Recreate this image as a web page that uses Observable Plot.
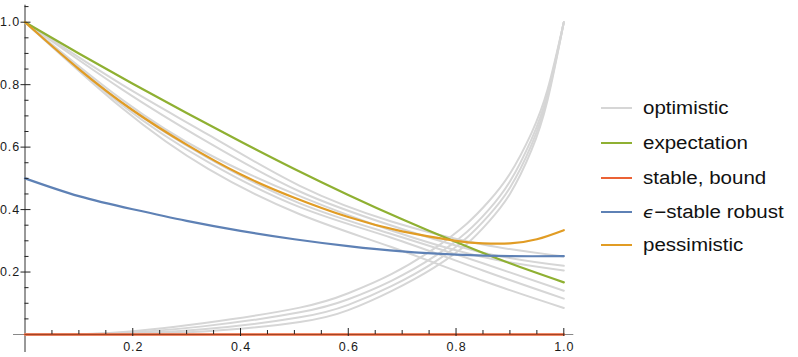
<!DOCTYPE html>
<html><head><meta charset="utf-8">
<script src="https://cdn.jsdelivr.net/npm/d3@7"></script>
<script src="https://cdn.jsdelivr.net/npm/@observablehq/plot@0.6"></script>
<style>
html,body{margin:0;padding:0;background:#fff;}
#wrap{position:relative;width:798px;height:357px;overflow:hidden;}
.item{position:absolute;left:601px;height:0;}
.sw{position:absolute;left:0;width:31px;height:2px;top:-1px;}
.lab{position:absolute;left:42px;top:-11px;font-size:18px;font-family:"Liberation Sans",Arial,sans-serif;white-space:nowrap;transform:scaleX(1.14);transform-origin:left center;line-height:22px;color:#111;}
.lab i{font-family:"DejaVu Sans",sans-serif;font-size:16px;}
#wrap svg text{letter-spacing:0.9px;}
</style></head><body><div id="wrap"></div>
<script>
// ---- data ----
const xTickValues = [0.2, 0.4, 0.6, 0.8, 1.0];
const yTickValues = [0.2, 0.4, 0.6, 0.8, 1.0];
const xMinorTicks = [0.05,0.1,0.15,0.25,0.3,0.35,0.45,0.5,0.55,0.65,0.7,0.75,0.85,0.9,0.95];
const yMinorTicks = [0.05,0.1,0.15,0.25,0.3,0.35,0.45,0.5,0.55,0.65,0.7,0.75,0.85,0.9,0.95,1.05];

const seriesNames = ["optimistic", "expectation", "stable, bound", "\u03F5\u2212stable robust", "pessimistic"];
const seriesColors = ["#d6d6d6", "#8fb032", "#eb6235", "#5e81b5", "#e19c24"];

// optimistic (gray) – rising family
const optRiseX = [0, 0.15, 0.33, 0.51, 0.6, 0.68, 0.76, 0.82, 0.86, 0.9, 0.94, 0.97, 1];
const optRiseA = [0, 0.004, 0.036, 0.086, 0.132, 0.193, 0.276, 0.355, 0.425, 0.515, 0.645, 0.785, 1.0];
const optRiseB = [0, 0.003, 0.026, 0.071, 0.113, 0.172, 0.25, 0.328, 0.398, 0.49, 0.625, 0.772, 1.0];
const optRiseC = [0, 0.002, 0.017, 0.055, 0.095, 0.155, 0.232, 0.31, 0.38, 0.47, 0.607, 0.762, 1.0];
const optRiseD = [0, 0.001, 0.010, 0.040, 0.078, 0.139, 0.215, 0.29, 0.36, 0.45, 0.59, 0.752, 1.0];
// optimistic (gray) – falling family
const optFallX = [0, 0.18, 0.34, 0.51, 0.68, 0.85, 1];
const optFall1 = [1, 0.80, 0.64, 0.476, 0.362, 0.288, 0.25];
const optFall2 = [1, 0.785, 0.615, 0.458, 0.349, 0.262, 0.22];
const optFall3 = [1, 0.752, 0.578, 0.443, 0.333, 0.248, 0.205];
const optFall4 = [1, 0.742, 0.565, 0.42, 0.322, 0.228, 0.14];
const optFall5 = [1, 0.735, 0.552, 0.408, 0.31, 0.205, 0.115];
const optFall6 = [1, 0.725, 0.53, 0.385, 0.28, 0.172, 0.085];

const expectationX = [0, 0.1, 0.2, 0.3, 0.4, 0.5, 0.6, 0.7, 0.8, 0.9, 1.0];
const expectationY = [1.0, 0.900, 0.803, 0.709, 0.618, 0.530, 0.447, 0.369, 0.296, 0.228, 0.167];

const stableX = [0, 1];
const stableY = [0, 0];

const robustX = [0, 0.1, 0.2, 0.3, 0.4, 0.5, 0.6, 0.7, 0.8, 0.9, 1.0];
const robustY = [0.5, 0.443, 0.401, 0.364, 0.332, 0.305, 0.283, 0.266, 0.256, 0.251, 0.251];

const pessimisticX = [0, 0.1, 0.2, 0.3, 0.4, 0.5, 0.6, 0.7, 0.8, 0.85, 0.9, 0.95, 1.0];
const pessimisticY = [1.0, 0.85, 0.718, 0.608, 0.513, 0.438, 0.376, 0.330, 0.300, 0.292, 0.292, 0.305, 0.334];

// ---- build tables ----
const toRows = (xs, ys, id) => xs.map((x, i) => ({x, y: ys[i], id}));
const optimistic = [
  ...toRows(optRiseX, optRiseA, "rA"), ...toRows(optRiseX, optRiseB, "rB"),
  ...toRows(optRiseX, optRiseC, "rC"), ...toRows(optRiseX, optRiseD, "rD"),
  ...toRows(optFallX, optFall1, "f1"), ...toRows(optFallX, optFall2, "f2"),
  ...toRows(optFallX, optFall3, "f3"), ...toRows(optFallX, optFall4, "f4"),
  ...toRows(optFallX, optFall5, "f5"), ...toRows(optFallX, optFall6, "f6")
];
const expectation = toRows(expectationX, expectationY, "e");
const stable = toRows(stableX, stableY, "s");
const robust = toRows(robustX, robustY, "r");
const pessimistic = toRows(pessimisticX, pessimisticY, "p");

const fmt = d3.format(".1f");
const W = 798, H = 357;
const chart = Plot.plot({
  width: W, height: H,
  marginLeft: 24.5, marginRight: 234.7, marginTop: 21.7, marginBottom: 23,
  x: {domain: [0, 1], axis: null},
  y: {domain: [0, 1], axis: null},
  style: {fontFamily: "'Liberation Sans', Arial, sans-serif", color: "#1a1a1a", background: "#fff"},
  marks: [
    // axes lines
    Plot.ruleY([0], {stroke: "#888", strokeWidth: 1, insetLeft: -11.5, insetRight: -10}),
    Plot.ruleX([0], {stroke: "#333", strokeWidth: 1, insetTop: -17, insetBottom: -18}),
    // curves
    Plot.line(optimistic, {x: "x", y: "y", z: "id", stroke: seriesColors[0], strokeWidth: 2, curve: "natural"}),
    Plot.line(expectation, {x: "x", y: "y", stroke: seriesColors[1], strokeWidth: 2.2, curve: "natural"}),
    Plot.line(stable, {x: "x", y: "y", stroke: seriesColors[2], strokeWidth: 2.4}),
    Plot.line(robust, {x: "x", y: "y", stroke: seriesColors[3], strokeWidth: 2.2, curve: "natural"}),
    Plot.line(pessimistic, {x: "x", y: "y", stroke: seriesColors[4], strokeWidth: 2.2, curve: "natural"}),
    // x-axis line showing through the red line
    Plot.ruleY([0], {stroke: "#000", strokeOpacity: 0.3, strokeWidth: 1}),
    // ticks
    Plot.ruleX(xTickValues, {x: d => d, y1: 0, y2: 0, insetTop: -6, insetBottom: -2, stroke: "#222"}),
    Plot.ruleX(xMinorTicks, {x: d => d, y1: 0, y2: 0, insetTop: -4, insetBottom: 0, stroke: "#222"}),
    Plot.ruleY(yTickValues, {y: d => d, x1: 0, x2: 0, insetLeft: -4, insetRight: -6, stroke: "#222"}),
    Plot.ruleY(yMinorTicks, {y: d => d, x1: 0, x2: 0, insetLeft: 0, insetRight: -4, stroke: "#222"}),
    // tick labels
    Plot.text(xTickValues, {x: d => d, frameAnchor: "bottom", text: d => fmt(d), dy: 12.5, dx: 0.5, fontSize: 12.5, textAnchor: "middle", lineAnchor: "middle", fill: "#1a1a1a"}),
    Plot.text(yTickValues, {y: d => d, frameAnchor: "left", text: d => fmt(d), dx: -5, fontSize: 12.5, textAnchor: "end", lineAnchor: "middle", fill: "#1a1a1a"})
  ]
});

const wrap = document.getElementById("wrap");
wrap.appendChild(chart);

// legend
const legendRowY = [108.3, 142.7, 177.7, 211.7, 245];
seriesNames.forEach((name, i) => {
  const item = document.createElement("div");
  item.className = "item";
  item.style.top = legendRowY[i] + "px";
  const sw = document.createElement("div");
  sw.className = "sw";
  sw.style.background = seriesColors[i];
  const lab = document.createElement("div");
  lab.className = "lab";
  if (name.startsWith("\u03F5")) {
    lab.innerHTML = "<i>\u03F5</i>" + name.slice(1);
  } else {
    lab.textContent = name;
  }
  item.appendChild(sw);
  item.appendChild(lab);
  wrap.appendChild(item);
});
</script>
</body></html>
